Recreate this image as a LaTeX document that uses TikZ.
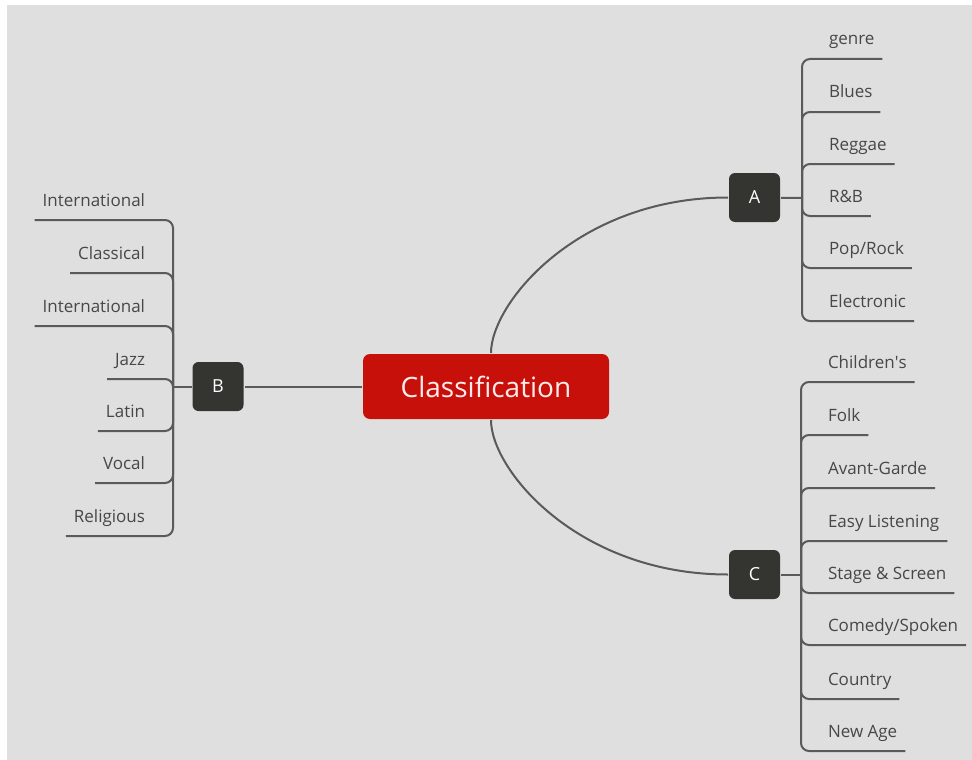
\documentclass[tikz,border=0pt]{standalone}
\usepackage{fontspec}
\setmainfont{Open Sans}
\usepackage{tikz}
\usetikzlibrary{positioning,calc}
\definecolor{bgray}{HTML}{DFDFDF}
\definecolor{cred}{HTML}{C8100B}
\definecolor{cdark}{HTML}{343431}
\definecolor{cline}{HTML}{5A5A5A}
\definecolor{ctext}{HTML}{474747}
\tikzset{mainbox/.style={fill=cred,rounded corners=7pt,minimum width=246pt,minimum height=65pt,text=red!8,font=\fontsize{28}{30}\selectfont},
  catbox/.style={fill=cdark,rounded corners=6pt,minimum width=51pt,minimum height=49pt,text=white,font=\fontsize{18}{20}\selectfont},
  lbl/.style={inner xsep=7pt,inner ysep=9pt,text height=13pt,text depth=4pt,text=ctext,font=\fontsize{17}{19}\selectfont},
  leafr/.style={lbl,anchor=south west},
  leafl/.style={lbl,anchor=south east}}

\begin{document}
\begin{tikzpicture}[x=1pt, y=-1pt, line width=2pt]
\tikzstyle{conn}=[draw=cline, rounded corners=8pt]
    \fill[white] (0,0) rectangle (972,760);
    \fill[bgray] (7,5) rectangle (972,760);
    \useasboundingbox (0,0) rectangle (972,760);
    % main topic and the three branches
    \node[mainbox] (root) at (486,386.5) {Classification};
    \node[catbox] (A) at (754.5,197.5) {A};
    \node[catbox] (B) at (218,386.5) {B};
    \node[catbox] (C) at (754.5,574.5) {C};
    \coordinate (sA) at (802,198);
    \coordinate (sB) at (173,386.5);
    \coordinate (sC) at (801,574.5);
    % A
    \node[leafr] (a1) at (821,59) {genre};
    \node[leafr] (a2) at (821,112) {Blues};
    \node[leafr] (a3) at (821,164) {Reggae};
    \node[leafr] (a4) at (821,216) {R\&B};
    \node[leafr] (a5) at (821,268) {Pop/Rock};
    \node[leafr] (a6) at (821,321) {Electronic};
    % B
    \node[leafl] (b1) at (153,220) {International};
    \node[leafl] (b2) at (153,273) {Classical};
    \node[leafl] (b3) at (153,326) {International};
    \node[leafl] (b4) at (153,379) {Jazz};
    \node[leafl] (b5) at (153,431) {Latin};
    \node[leafl] (b6) at (153,483) {Vocal};
    \node[leafl] (b7) at (153,536) {Religious};
    % C
    \node[leafr] (c1) at (820,382) {Children\textquotesingle s};
    \node[leafr] (c2) at (820,435) {Folk};
    \node[leafr] (c3) at (820,488) {Avant-Garde};
    \node[leafr] (c4) at (820,541) {Easy Listening};
    \node[leafr] (c5) at (820,593) {Stage \& Screen};
    \node[leafr] (c6) at (820,645) {Comedy/Spoken};
    \node[leafr] (c7) at (820,699) {Country};
    \node[leafr] (c8) at (820,751) {New Age};
    % connectors
    \draw[conn] (root) -- (B);
    \draw[conn] ([xshift=5pt]root.north) .. controls +(0,-50) and +(-150,0) .. (A.west);
    \draw[conn] ([xshift=5pt]root.south) .. controls +(0,50) and +(-150,0) .. (C.west);
    \draw[conn] (A) -- (sA);
    \draw[conn] (B) -- (sB);
    \draw[conn] (C) -- (sC);
    \draw[conn] (sA) |- (a1.south east);
    \draw[conn] (sA) |- (a2.south east);
    \draw[conn] (sA) |- (a3.south east);
    \draw[conn] (sA) |- (a4.south east);
    \draw[conn] (sA) |- (a5.south east);
    \draw[conn] (sA) |- (a6.south east);
    \draw[conn] (sB) |- (b1.south west);
    \draw[conn] (sB) |- (b2.south west);
    \draw[conn] (sB) |- (b3.south west);
    \draw[conn] (sB) |- (b4.south west);
    \draw[conn] (sB) |- (b5.south west);
    \draw[conn] (sB) |- (b6.south west);
    \draw[conn] (sB) |- (b7.south west);
    \draw[conn] (sC) |- (c1.south east);
    \draw[conn] (sC) |- (c2.south east);
    \draw[conn] (sC) |- (c3.south east);
    \draw[conn] (sC) |- (c4.south east);
    \draw[conn] (sC) |- (c5.south east);
    \draw[conn] (sC) |- (c6.south east);
    \draw[conn] (sC) |- (c7.south east);
    \draw[conn] (sC) |- (c8.south east);
\end{tikzpicture}
\end{document}
